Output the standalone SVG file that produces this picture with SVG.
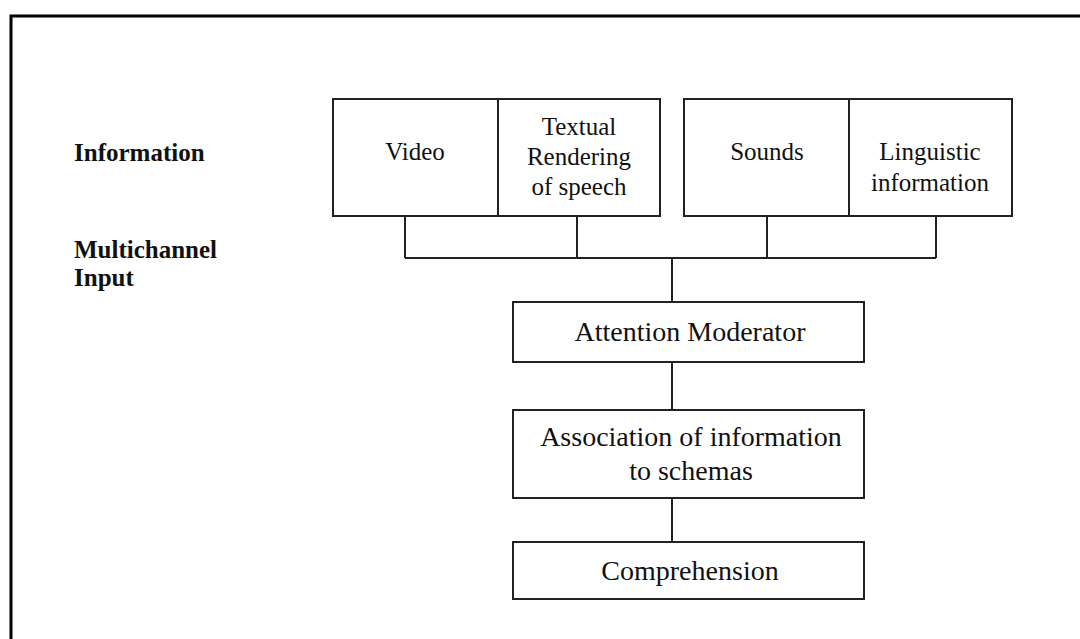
<svg xmlns="http://www.w3.org/2000/svg" width="1080" height="639" viewBox="0 0 1080 639">
<style>
.box{fill:#fff;stroke:#222;stroke-width:2}
.ln{fill:none;stroke:#222;stroke-width:2}
.t{font-family:"Liberation Serif","Times New Roman",serif;font-size:25px;fill:#111;text-anchor:middle}
.b{font-family:"Liberation Serif","Times New Roman",serif;font-size:28px;fill:#111;text-anchor:middle}
.lab{font-family:"Liberation Serif","Times New Roman",serif;font-size:25px;font-weight:bold;fill:#111}
</style>
<rect width="1080" height="639" fill="#fff"/>
<path d="M11 639 V16 H1080" fill="none" stroke="#000" stroke-width="3"/>
<g id="label-information"><text class="lab" x="74" y="161">Information</text></g>
<g id="label-multichannel"><text class="lab" x="74" y="258">Multichannel</text><text class="lab" x="74" y="286">Input</text></g>
<g id="connectors">
<path class="ln" d="M405 216 V258 M577 216 V258 M767 216 V258 M936 216 V258 M405 258 H936 M672 258 V302 M672 362 V410 M672 498 V542"/>
</g>
<g id="video"><rect class="box" x="333" y="99" width="165" height="117"/><text class="t" x="415" y="160">Video</text></g>
<g id="textual"><rect class="box" x="498" y="99" width="162" height="117"/><text class="t" x="579" y="135">Textual</text><text class="t" x="579" y="165">Rendering</text><text class="t" x="579" y="195">of speech</text></g>
<g id="sounds"><rect class="box" x="684" y="99" width="165" height="117"/><text class="t" x="767" y="160">Sounds</text></g>
<g id="linguistic"><rect class="box" x="849" y="99" width="163" height="117"/><text class="t" x="930" y="160">Linguistic</text><text class="t" x="930" y="191">information</text></g>
<g id="attention"><rect class="box" x="513" y="302" width="351" height="60"/><text class="b" x="690" y="341">Attention Moderator</text></g>
<g id="association"><rect class="box" x="513" y="410" width="351" height="88"/><text class="b" x="691" y="446">Association of information</text><text class="b" x="691" y="480">to schemas</text></g>
<g id="comprehension"><rect class="box" x="513" y="542" width="351" height="57"/><text class="b" x="690" y="580">Comprehension</text></g>
</svg>
